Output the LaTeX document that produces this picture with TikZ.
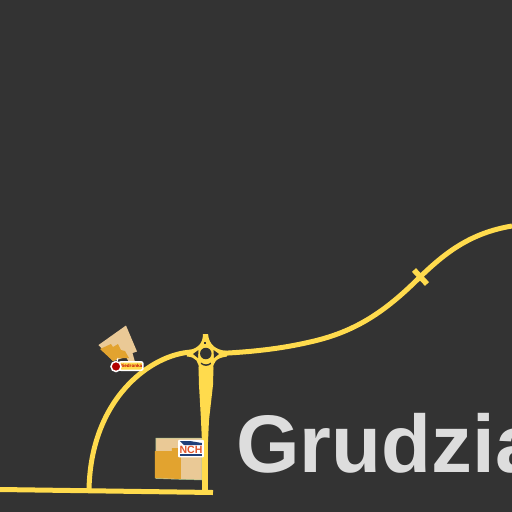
\documentclass[tikz,border=0pt]{standalone}
\usepackage{fontspec}
\setmainfont{Liberation Sans}
\definecolor{mapbg}{HTML}{333333}
\definecolor{road}{HTML}{FFDB4D}
\definecolor{peach}{HTML}{EAC996}
\definecolor{shop}{HTML}{E2A32F}
\definecolor{edgegreen}{HTML}{A9C78F}
\definecolor{citytext}{HTML}{DDDDDD}
\definecolor{nchblue}{HTML}{1F3F7A}
\definecolor{nchred}{HTML}{E2562B}
\begin{document}
\begin{tikzpicture}[x=0.02cm, y=-0.02cm, road/.style = {draw=road, line width=0.1cm, line join=round}, roadfill/.style = {fill=road}, island/.style = {fill=mapbg}]
        \useasboundingbox (0,0) rectangle (512,512);
        \clip (0,0) rectangle (512,512);
        \fill[mapbg] (0,0) rectangle (512,512);
        %% Buildings
        \fill[peach] (126,325.5) -- (137,351.5) -- (132.5,353) -- (135,362) -- (129,362) -- (126,357) -- (113,361) -- (98.5,345) -- cycle;
        \fill[shop] (100,349) -- (111,344) -- (113,347) -- (118,344) -- (121,350) -- (125,351) -- (129,358) -- (119,358) -- (113,361) -- cycle;
        \fill[peach, draw=edgegreen, line width=0.01cm] (156,438) -- (202,438) -- (202,480) -- (156,478.5) -- cycle;
        \fill[shop] (155,451) -- (172,451) -- (172,448) -- (181,448) -- (181,479) -- (155,478) -- cycle;
        %% Roads
        \draw[road] (512,226) .. controls (470,233) and (445,253) .. (420,277) .. controls (385,312) and (355,332) .. (310,342) .. controls (280,349) and (250,352) .. (219,353.5);
        \draw[road] (192,352) .. controls (150,354) and (90,400) .. (89,491);
        \draw[road] (0,489.5) -- (213,492.5);
        \draw[road, line width=0.13cm] (205,493) -- (205,440);
        \draw[road, line width=0.11cm] (414,270) -- (427,284);
        \fill[roadfill] (198.5,367) -- (213.5,367) -- (213,385) -- (209,420) -- (208,442) -- (202,442) -- (201,420) -- (199,385) -- cycle;
        %% Roundabout
        \fill[roadfill] (203,334) .. controls (203,345) and (196,349) .. (187,350.5) -- (187,356.5) .. controls (196,357) and (199,362) .. (199,370) -- (213,370) .. controls (213,362) and (216,358) .. (227,356.5) -- (227,351) .. controls (216,350) and (209,345) .. (208,334) -- cycle;
        \fill[island] (193,354) -- (198.5,350) -- (198,358) -- cycle;
        \fill[island] (219,354) -- (213.5,350) -- (214,358) -- cycle;
        \fill[island] (204.5,341.5) rectangle (206.5,343.5);
        \fill[island] (201,362.5) .. controls (204,365) and (208,365) .. (211,362.5) -- (211,364) .. controls (208,366.5) and (204,366.5) .. (201,364) -- cycle;
        \node[circle, fill=mapbg, minimum size=0.23cm, inner sep=0pt] (ring) at (205.8,353.5) {};
        %% Signs
        \node[draw=white, fill=road, rounded corners=0.04cm, line width=0.03cm, minimum width=0.48cm, minimum height=0.17cm, inner sep=0pt, text=red!75!black, font=\bfseries\fontsize{2.6}{2.6}\selectfont] (biedronka) at (131,366) {Biedronka};
        \node[circle, fill=red!70!black, draw=white, line width=0.03cm, minimum size=0.2cm, inner sep=0pt] (ladybug) at (116,366.5) {};
        \draw[white, line width=0.02cm] (ladybug) -- (118,358);
        \node[fill=white, rounded corners=0.02cm, minimum width=0.52cm, minimum height=0.35cm, inner sep=0pt] (nch) at (191,448.5) {};
        \node[text=nchred, inner sep=0pt, font=\bfseries\fontsize{6}{6}\selectfont] (nchtext) at (191,449.5) {NCH};
        \fill[nchblue] (180,454) rectangle (202,456);
        \fill[nchblue] (180,441) -- (190,441) -- (202,443) -- (202,445) -- (184,445) -- cycle;
        %% City name
        \node[anchor=base west, inner sep=0pt, text=citytext, font=\bfseries\fontsize{46.5}{46.5}\selectfont] (city) at (236,472.5) {Grudzia};
    \end{tikzpicture}
\end{document}
